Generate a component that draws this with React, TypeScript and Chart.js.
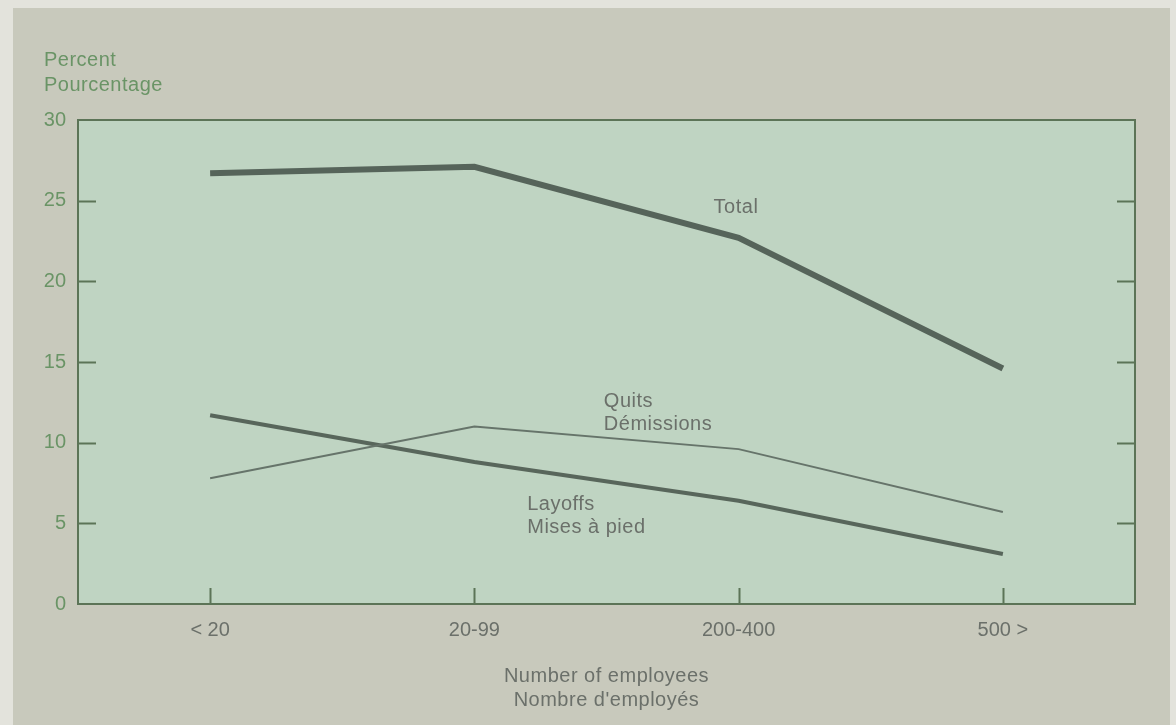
import React, { useEffect, useRef } from "react";
import { Chart, registerables } from "chart.js";

Chart.register(...registerables);

// ---- data ----
const categories = ["< 20", "20-99", "200-400", "500 >"];
const totalValues = [26.7, 27.1, 22.7, 14.6];
const quitsValues = [7.8, 11.0, 9.6, 5.7];
const layoffsValues = [11.7, 8.8, 6.4, 3.1];
const yMin = 0;
const yMax = 30;
const yStep = 5;
const yTitleLines = ["Percent", "Pourcentage"];
const xTitleLines = ["Number of employees", "Nombre d'employés"];
const totalLabel = ["Total"];
const quitsLabel = ["Quits", "Démissions"];
const layoffsLabel = ["Layoffs", "Mises à pied"];

// ---- placement of in-plot labels (data space: category index, value) ----
const labelPlacements = [
  { lines: totalLabel, at: [1.99, 24.25], align: "center" },
  { lines: quitsLabel, at: [1.49, 12.2], align: "left" },
  { lines: layoffsLabel, at: [1.2, 5.85], align: "left" },
];

const FONT = "'Liberation Sans', Arial, Helvetica, sans-serif";
const TEXT_GRAY = "#6b706a";
const TEXT_GREEN = "#6a9466";
const FRAME = "#5c7457";

const decor = {
  id: "decor",
  beforeDraw(chart: any) {
    const { ctx, chartArea: a, width, height } = chart;
    ctx.save();
    ctx.fillStyle = "#e3e3dc";
    ctx.fillRect(0, 0, width, height);
    ctx.fillStyle = "#c8c9bc";
    ctx.fillRect(13, 8, 1157, height - 8);
    ctx.fillStyle = "#bfd4c2";
    ctx.fillRect(a.left, a.top, a.right - a.left, a.bottom - a.top);
    ctx.restore();
  },
  beforeDatasetsDraw(chart: any) {
    const { ctx, chartArea: a, scales } = chart;
    const ys = scales.y;
    const xs = scales.x;
    ctx.save();
    ctx.strokeStyle = FRAME;
    ctx.lineWidth = 2;
    ctx.beginPath();
    for (let v = yMin + yStep; v < yMax; v += yStep) {
      const p = Math.round(ys.getPixelForValue(v)) + 0.5;
      ctx.moveTo(a.left, p);
      ctx.lineTo(a.left + 18, p);
      ctx.moveTo(a.right, p);
      ctx.lineTo(a.right - 18, p);
    }
    categories.forEach((_, i) => {
      const p = Math.round(xs.getPixelForValue(i)) + 0.5;
      ctx.moveTo(p, a.bottom);
      ctx.lineTo(p, a.bottom - 16);
    });
    ctx.stroke();
    ctx.strokeRect(a.left, a.top, a.right - a.left, a.bottom - a.top);
    ctx.restore();
  },
  afterDraw(chart: any) {
    const { ctx, chartArea: a, scales } = chart;
    const xs = scales.x;
    const ys = scales.y;
    ctx.save();
    ctx.font = `20px ${FONT}`;
    try {
      (ctx as any).letterSpacing = "0.5px";
    } catch (e) {}
    ctx.textBaseline = "alphabetic";

    // y title
    ctx.fillStyle = TEXT_GREEN;
    ctx.textAlign = "left";
    ctx.fillText(yTitleLines[0], 44, a.top - 54);
    ctx.fillText(yTitleLines[1], 44, a.top - 29);

    // x title
    ctx.fillStyle = TEXT_GRAY;
    ctx.textAlign = "center";
    const cx = (a.left + a.right) / 2;
    ctx.fillText(xTitleLines[0], cx, a.bottom + 78);
    ctx.fillText(xTitleLines[1], cx, a.bottom + 102);

    // in-plot labels
    labelPlacements.forEach((lp) => {
      const x = xs.getPixelForValue(lp.at[0]);
      const y = ys.getPixelForValue(lp.at[1]);
      ctx.textAlign = lp.align as CanvasTextAlign;
      lp.lines.forEach((t, k) => ctx.fillText(t, x, y + k * 23));
    });
    ctx.restore();
  },
};

export default function App() {
  const ref = useRef<HTMLCanvasElement | null>(null);

  useEffect(() => {
    if (!ref.current) return;
    const chart = new Chart(ref.current, {
      type: "line",
      data: {
        labels: categories,
        datasets: [
          {
            label: "Total",
            data: totalValues,
            borderColor: "#56645a",
            borderWidth: 6,
            pointRadius: 0,
            tension: 0,
          },
          {
            label: "Quits",
            data: quitsValues,
            borderColor: "#66746a",
            borderWidth: 2,
            pointRadius: 0,
            tension: 0,
          },
          {
            label: "Layoffs",
            data: layoffsValues,
            borderColor: "#58665b",
            borderWidth: 4,
            pointRadius: 0,
            tension: 0,
          },
        ],
      },
      options: {
        responsive: false,
        animation: false,
        events: [],
        layout: { padding: { top: 120, right: 41, left: 0, bottom: 0 } },
        plugins: {
          legend: { display: false },
          tooltip: { enabled: false },
        },
        scales: {
          x: {
            type: "category",
            offset: true,
            grid: { display: false, drawTicks: false },
            border: { display: false },
            ticks: {
              color: TEXT_GRAY,
              font: { family: FONT, size: 20 },
              padding: 14,
              maxRotation: 0,
            },
            afterFit: (s: any) => {
              s.height = 121;
            },
          },
          y: {
            min: yMin,
            max: yMax,
            grid: { display: false, drawTicks: false },
            border: { display: false },
            ticks: {
              stepSize: yStep,
              color: TEXT_GREEN,
              font: { family: FONT, size: 20 },
              padding: 12,
            },
            afterFit: (s: any) => {
              s.width = 78;
            },
          },
        },
      },
      plugins: [decor],
    });
    return () => chart.destroy();
  }, []);

  return (
    <div style={{ position: "fixed", left: 0, top: 0, width: 1176, height: 725 }}>
      <canvas ref={ref} width={1176} height={725} style={{ display: "block", width: 1176, height: 725 }} />
    </div>
  );
}
